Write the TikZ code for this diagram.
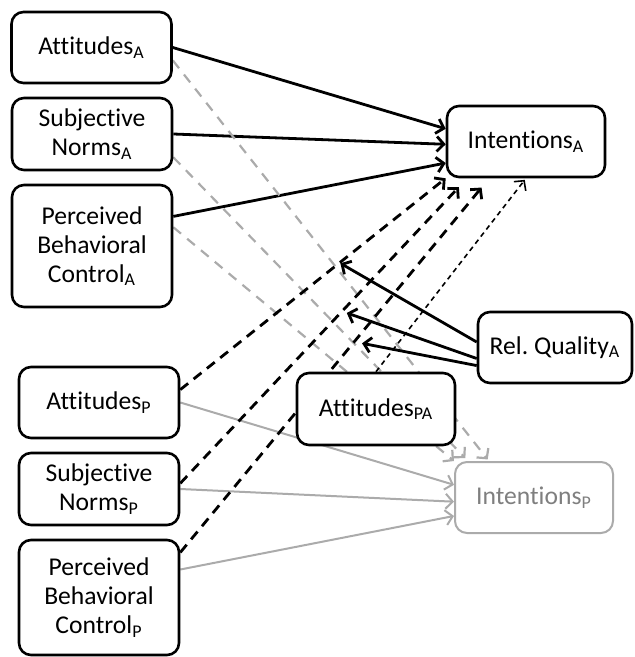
\documentclass[tikz,border=0pt]{standalone}
\usepackage{fontspec}
\setmainfont{Carlito}[Ligatures=NoCommon]
\usetikzlibrary{arrows.meta,backgrounds}
\definecolor{lightgr}{HTML}{ABABAB}
\definecolor{midgr}{HTML}{7F7F7F}
\tikzset{
  box/.style={draw, rounded corners=6pt, line width=1.3pt, fill=white, align=center,
    inner sep=0pt, minimum width=80pt, minimum height=35.5pt, font=\fontsize{12.8}{14.5}\selectfont},
  arr/.style={-{Straight Barb[length=3.5pt,width=7.5pt]}},
  blk/.style={arr, line width=1.4pt},
  gsolid/.style={arr, draw=lightgr, line width=1pt},
  gdash/.style={arr, draw=lightgr, line width=1.1pt, dash pattern=on 5pt off 4pt},
  bdash/.style={arr, line width=1.4pt, dash pattern=on 5pt off 3.5pt},
  thindash/.style={arr, line width=0.8pt, dash pattern=on 2.5pt off 2pt}
}
\begin{document}
\begin{tikzpicture}[x=0.5pt,y=-0.5pt]
\useasboundingbox (0,0) rectangle (634,657);
\node[box] (attA) at (91.5,47.5) {Attitudes\textsubscript{A}};
\node[box, minimum height=36pt] (snA) at (92,134) {Subjective\\Norms\textsubscript{A}};
\node[box, minimum height=61pt] (pbcA) at (92,246) {Perceived\\Behavioral\\Control\textsubscript{A}};
\node[box, minimum width=79pt] (intA) at (526,141.5) {Intentions\textsubscript{A}};
\node[box, minimum width=77pt] (relQ) at (555,347.5) {Rel.\ Quality\textsubscript{A}};
\node[box] (attP) at (99,402.5) {Attitudes\textsubscript{P}};
\node[box, minimum height=36pt] (snP) at (99,489) {Subjective\\Norms\textsubscript{P}};
\node[box, minimum height=57.5pt] (pbcP) at (99,597.5) {Perceived\\Behavioral\\Control\textsubscript{P}};
\node[box, minimum width=79pt, minimum height=36pt] (attPA) at (376,409) {Attitudes\textsubscript{PA}};
\node[box, draw=lightgr, text=midgr, line width=1pt, minimum width=79pt] (intP) at (534,497.5) {Intentions\textsubscript{P}};
\begin{scope}[on background layer]
\draw[blk] (attA.east) -- (intA.171);
\draw[blk] (snA.east) -- (intA.182);
\draw[blk] (pbcA.20) -- (intA.195);
\draw[gdash, shorten >=1pt] (attA.351) -- (intP.141);
\draw[gdash, shorten >=2pt] (snA.-16) -- (intP.151);
\draw[gdash] (pbcA.13) -- (intP.north west);
\draw[gsolid] (attP.east) -- (intP.171);
\draw[gsolid] (snP.east) -- (intP.183);
\draw[gsolid] (pbcP.19) -- (intP.193);
\draw[bdash] (attP.9) -- coordinate[pos=.6] (m1) (intA.south west);
\draw[bdash, shorten >=6pt] (snP.4) -- coordinate[pos=.564] (m2) (intA.212);
\draw[bdash, shorten >=6pt] (pbcP.29) -- coordinate[pos=.563] (m3) (intA.225);
\draw[thindash, shorten >=1pt] (attPA.north) -- (intA.south);
\draw[blk, shorten >=0.5pt] (relQ.176) -- (m1);
\draw[blk, shorten >=2.5pt] (relQ.188) -- (m2);
\draw[blk, shorten >=4pt] (relQ.193) -- (m3);
\end{scope}
\end{tikzpicture}
\end{document}
